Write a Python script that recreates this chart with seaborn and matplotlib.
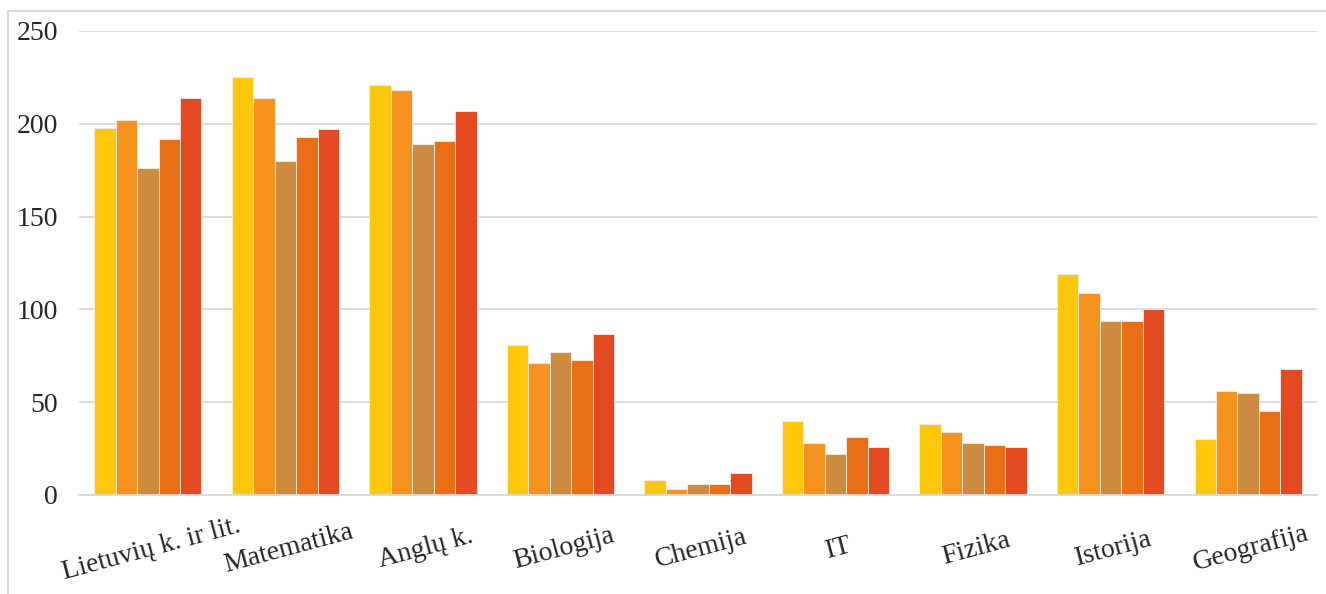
import pandas as pd
import numpy as np
import matplotlib
matplotlib.use('Agg')
import matplotlib.pyplot as plt
import seaborn as sns
from matplotlib.patches import Rectangle

# Data
subjects = ['Lietuvių k. ir lit.', 'Matematika', 'Anglų k.', 'Biologija', 'Chemija',
            'IT', 'Fizika', 'Istorija', 'Geografija']
series_names = ['s1', 's2', 's3', 's4', 's5']
s1 = [198, 225, 221, 81, 8, 40, 38, 119, 30]
s2 = [202, 214, 218, 71, 3, 28, 34, 109, 56]
s3 = [176, 180, 189, 77, 6, 22, 28, 94, 55]
s4 = [192, 193, 191, 73, 6, 31, 27, 94, 45]
s5 = [214, 197, 207, 87, 12, 26, 26, 100, 68]
colors = ['#FDC70C', '#F6921E', '#CD8B3F', '#E96F17', '#E44A22']

df = pd.DataFrame({'subject': subjects * 5,
                   'series': np.repeat(series_names, len(subjects)),
                   'value': s1 + s2 + s3 + s4 + s5})

sns.set_style('white')
plt.rcParams['font.family'] = ['Liberation Serif', 'DejaVu Serif']

fig = plt.figure(figsize=(13.26, 5.94), dpi=100)
ax = fig.add_axes([79 / 1326, 1 - 495 / 594, (1317 - 79) / 1326, (495 - 31) / 594])

sns.barplot(data=df, x='subject', y='value', hue='series', palette=colors,
            saturation=1, width=0.78, gap=0, edgecolor='#F8EDE3', linewidth=0.6,
            legend=False, ax=ax)

ax.set_ylim(0, 250)
ax.set_xlim(-0.5, len(subjects) - 0.5)
ax.set_yticks(range(0, 251, 50))
ax.yaxis.grid(True, color='#D9D9D9', linewidth=1.3)
ax.set_axisbelow(True)
for side in ['left', 'right', 'top']:
    ax.spines[side].set_visible(False)
ax.spines['bottom'].set_color('#D9D9D9')
ax.spines['bottom'].set_linewidth(1.3)
ax.set_xlabel('')
ax.set_ylabel('')
ax.tick_params(axis='y', labelsize=20, colors='#262626', pad=15, length=0)
ax.tick_params(axis='x', labelsize=20, colors='#262626', pad=6, length=0)
plt.setp(ax.get_xticklabels(), rotation=15, ha='center', rotation_mode='anchor')
for lbl in ax.get_xticklabels():
    lbl.set_y(-0.072)

# outer chart border
fig.patches.append(Rectangle((8 / 1326, -0.05), 1.2, 1 - 11 / 594 + 0.05,
                             transform=fig.transFigure, fill=False,
                             edgecolor='#D9D9D9', linewidth=1.5))

fig.savefig('out.png', dpi=100)
